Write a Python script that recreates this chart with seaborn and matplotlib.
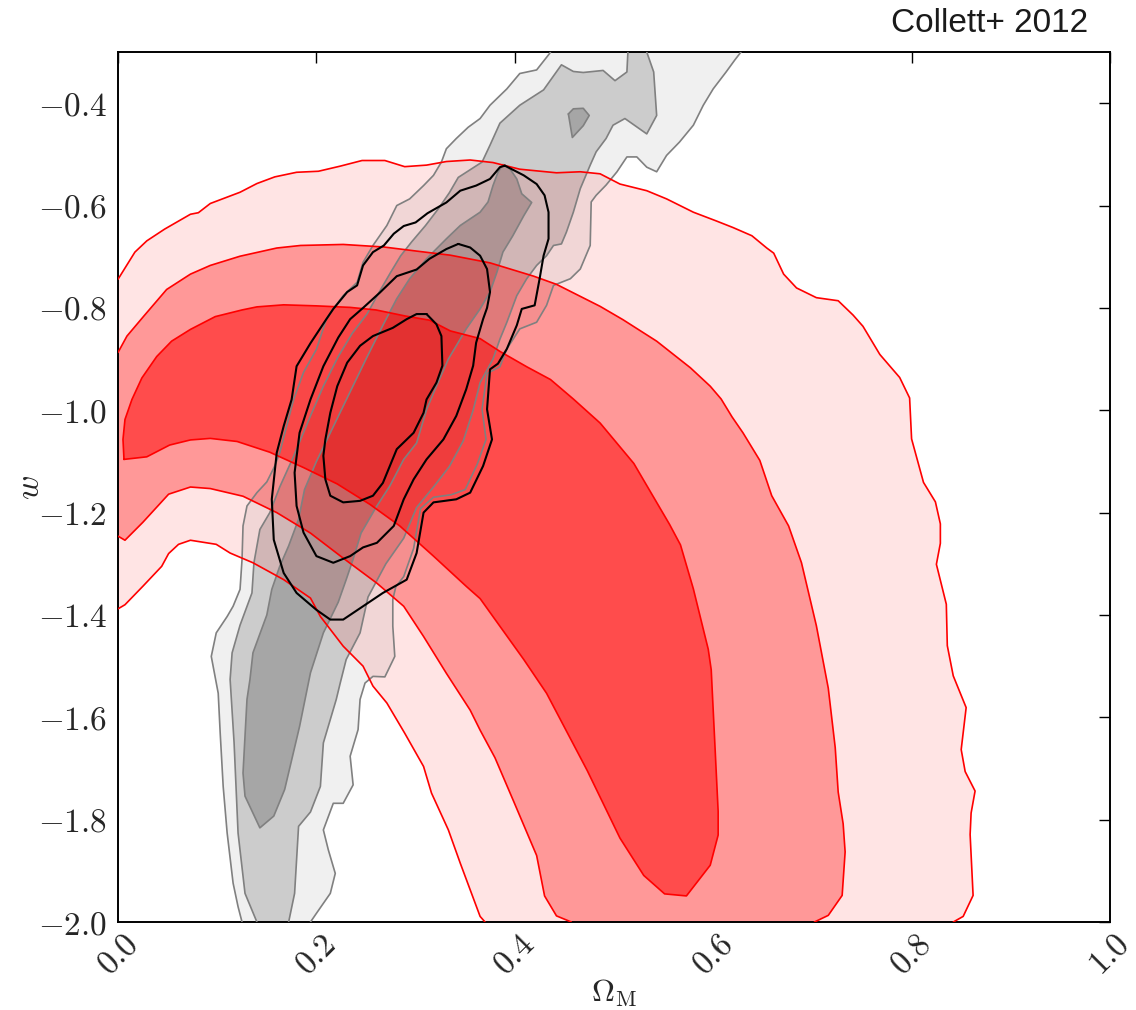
import matplotlib
matplotlib.use("Agg")
import matplotlib.pyplot as plt
import seaborn as sns
import numpy as np

# ---------------------------------------------------------------
# Confidence contours in the (Omega_M, w) plane, as (Omega_M, w) vertices.
# Open arcs end on the plot boundary; loops are closed curves.
# ---------------------------------------------------------------

# SN-like constraint (red): 3 nested levels
red_outer_top = [
    (0.0, -0.744), (0.017, -0.691), (0.029, -0.669), (0.047, -0.646), (0.073, -0.617),
    (0.081, -0.614), (0.093, -0.596), (0.123, -0.574), (0.140, -0.557), (0.158, -0.544),
    (0.180, -0.535), (0.202, -0.533), (0.224, -0.523), (0.246, -0.512), (0.269, -0.512),
    (0.289, -0.524), (0.311, -0.521), (0.331, -0.514), (0.355, -0.511), (0.378, -0.516),
    (0.405, -0.529), (0.442, -0.536), (0.466, -0.534), (0.486, -0.538), (0.506, -0.558),
    (0.533, -0.571), (0.553, -0.587), (0.580, -0.613), (0.603, -0.630), (0.620, -0.643),
    (0.639, -0.659), (0.654, -0.683), (0.661, -0.693), (0.671, -0.734), (0.684, -0.761),
    (0.704, -0.780), (0.726, -0.786), (0.741, -0.814), (0.751, -0.836), (0.768, -0.891),
    (0.788, -0.936), (0.798, -0.976), (0.800, -1.056), (0.812, -1.141), (0.824, -1.179),
    (0.829, -1.222), (0.829, -1.260), (0.825, -1.301), (0.835, -1.379), (0.836, -1.460),
    (0.842, -1.519), (0.855, -1.581), (0.850, -1.663), (0.854, -1.706), (0.864, -1.744),
    (0.860, -1.787), (0.859, -1.829), (0.862, -1.948), (0.852, -1.989), (0.842, -2.0),
]
red_outer_bottom = [
    (0.370, -2.0), (0.365, -1.989), (0.355, -1.937), (0.345, -1.885), (0.333, -1.820),
    (0.316, -1.748), (0.308, -1.696), (0.289, -1.631), (0.271, -1.572), (0.257, -1.539),
    (0.247, -1.500), (0.227, -1.461), (0.204, -1.403), (0.194, -1.367), (0.167, -1.331),
    (0.136, -1.298), (0.113, -1.279), (0.099, -1.262), (0.073, -1.254), (0.061, -1.262),
    (0.051, -1.280), (0.044, -1.305), (0.025, -1.344), (0.007, -1.380), (0.0, -1.388),
]
red_mid_top = [
    (0.0, -0.887), (0.009, -0.855), (0.026, -0.816), (0.049, -0.764), (0.073, -0.734),
    (0.093, -0.717), (0.123, -0.699), (0.160, -0.683), (0.184, -0.678), (0.227, -0.676),
    (0.268, -0.681), (0.301, -0.689), (0.335, -0.697), (0.375, -0.712), (0.419, -0.738),
    (0.442, -0.754), (0.486, -0.797), (0.509, -0.823), (0.543, -0.865), (0.577, -0.917),
    (0.597, -0.953), (0.608, -0.978), (0.619, -1.013), (0.630, -1.044), (0.647, -1.098),
    (0.659, -1.167), (0.676, -1.226), (0.689, -1.298), (0.699, -1.380), (0.704, -1.421),
    (0.716, -1.543), (0.723, -1.659), (0.726, -1.746), (0.731, -1.808), (0.733, -1.863),
    (0.730, -1.948), (0.716, -1.987), (0.702, -2.0),
]
red_mid_bottom = [
    (0.457, -2.0), (0.442, -1.988), (0.430, -1.949), (0.422, -1.870), (0.399, -1.765),
    (0.380, -1.679), (0.365, -1.625), (0.355, -1.586), (0.331, -1.514), (0.308, -1.442),
    (0.288, -1.383), (0.261, -1.338), (0.227, -1.289), (0.194, -1.240), (0.160, -1.200),
    (0.126, -1.168), (0.093, -1.153), (0.073, -1.150), (0.051, -1.164), (0.025, -1.219),
    (0.007, -1.254), (0.0, -1.246),
]
red_inner_loop = [
    (0.006, -1.096), (0.005, -1.057), (0.007, -1.018), (0.014, -0.979), (0.024, -0.937),
    (0.039, -0.895), (0.054, -0.865), (0.073, -0.842), (0.098, -0.817), (0.125, -0.804),
    (0.140, -0.798), (0.167, -0.794), (0.200, -0.796), (0.234, -0.799), (0.260, -0.804),
    (0.290, -0.816), (0.314, -0.824), (0.335, -0.845), (0.365, -0.860), (0.385, -0.885),
    (0.412, -0.915), (0.436, -0.940), (0.459, -0.978), (0.486, -1.025), (0.520, -1.104),
    (0.556, -1.223), (0.567, -1.263), (0.580, -1.349), (0.595, -1.467), (0.598, -1.507),
    (0.602, -1.665), (0.605, -1.784), (0.605, -1.830), (0.597, -1.889), (0.573, -1.949),
    (0.551, -1.945), (0.530, -1.909), (0.506, -1.836), (0.473, -1.704), (0.432, -1.553),
    (0.409, -1.487), (0.382, -1.414), (0.365, -1.368), (0.351, -1.344), (0.318, -1.285),
    (0.284, -1.226), (0.254, -1.184), (0.221, -1.144), (0.187, -1.112), (0.153, -1.082),
    (0.120, -1.061), (0.093, -1.055), (0.073, -1.058), (0.052, -1.068), (0.029, -1.091),
]

# Lensing-like constraint (grey): 3 nested levels
grey_outer_left = [
    (0.125, -2.0), (0.121, -1.970), (0.116, -1.924), (0.110, -1.826), (0.106, -1.735),
    (0.103, -1.631), (0.101, -1.553), (0.094, -1.481), (0.099, -1.435), (0.110, -1.403),
    (0.116, -1.383), (0.123, -1.350), (0.125, -1.292), (0.126, -1.226), (0.130, -1.187),
    (0.140, -1.161), (0.150, -1.140), (0.158, -1.109), (0.163, -1.083), (0.170, -1.031),
    (0.177, -0.979), (0.187, -0.926), (0.200, -0.881), (0.210, -0.822), (0.217, -0.802),
    (0.227, -0.776), (0.241, -0.750), (0.247, -0.711), (0.257, -0.678), (0.271, -0.639),
    (0.281, -0.600), (0.294, -0.587), (0.308, -0.561), (0.318, -0.541), (0.326, -0.515),
    (0.331, -0.489), (0.341, -0.469), (0.353, -0.447), (0.365, -0.430), (0.375, -0.404),
    (0.392, -0.372), (0.405, -0.342), (0.422, -0.335), (0.435, -0.303), (0.436, -0.3),
]
grey_outer_right = [
    (0.628, -0.3), (0.622, -0.315), (0.613, -0.339), (0.600, -0.372), (0.590, -0.404),
    (0.580, -0.443), (0.566, -0.476), (0.553, -0.502), (0.543, -0.534), (0.533, -0.525),
    (0.523, -0.505), (0.513, -0.505), (0.503, -0.534), (0.492, -0.560), (0.482, -0.580),
    (0.477, -0.593), (0.476, -0.678), (0.466, -0.724), (0.456, -0.743), (0.439, -0.756),
    (0.432, -0.795), (0.422, -0.828), (0.405, -0.841), (0.392, -0.880), (0.385, -0.915),
    (0.372, -0.928), (0.367, -0.998), (0.371, -1.057), (0.362, -1.106), (0.350, -1.155),
    (0.336, -1.165), (0.318, -1.170), (0.305, -1.192), (0.298, -1.270), (0.288, -1.325),
    (0.280, -1.345), (0.277, -1.370), (0.277, -1.422), (0.279, -1.481), (0.269, -1.521),
    (0.257, -1.520), (0.249, -1.533), (0.244, -1.565), (0.242, -1.624), (0.234, -1.676),
    (0.237, -1.732), (0.227, -1.768), (0.217, -1.768), (0.207, -1.820), (0.212, -1.859),
    (0.219, -1.905), (0.214, -1.944), (0.200, -1.983), (0.194, -2.0),
]
grey_mid_left = [
    (0.140, -2.0), (0.128, -1.944), (0.121, -1.826), (0.117, -1.650), (0.113, -1.526),
    (0.115, -1.474), (0.123, -1.420), (0.135, -1.357), (0.137, -1.298), (0.143, -1.233),
    (0.153, -1.200), (0.163, -1.150), (0.177, -1.090), (0.194, -1.011), (0.207, -0.953),
    (0.222, -0.895), (0.236, -0.850), (0.251, -0.812), (0.263, -0.770), (0.275, -0.730),
    (0.285, -0.698), (0.296, -0.671), (0.310, -0.639), (0.323, -0.606), (0.334, -0.575),
    (0.343, -0.545), (0.367, -0.515), (0.375, -0.482), (0.385, -0.439), (0.405, -0.404),
    (0.429, -0.374), (0.447, -0.325), (0.459, -0.338), (0.469, -0.340), (0.489, -0.336),
    (0.501, -0.356), (0.513, -0.339), (0.514, -0.3),
]
grey_mid_right = [
    (0.533, -0.3), (0.540, -0.339), (0.543, -0.424), (0.533, -0.460), (0.511, -0.430),
    (0.499, -0.443), (0.492, -0.469), (0.482, -0.495), (0.476, -0.521), (0.466, -0.567),
    (0.459, -0.613), (0.452, -0.652), (0.447, -0.675), (0.439, -0.678), (0.432, -0.698),
    (0.422, -0.717), (0.412, -0.743), (0.402, -0.776), (0.392, -0.828), (0.385, -0.861),
    (0.378, -0.900), (0.365, -0.946), (0.358, -1.000), (0.348, -1.060), (0.334, -1.110),
    (0.318, -1.150), (0.301, -1.190), (0.288, -1.250), (0.270, -1.300), (0.252, -1.365),
    (0.244, -1.435), (0.230, -1.487), (0.224, -1.533), (0.220, -1.565), (0.207, -1.650),
    (0.204, -1.735), (0.194, -1.785), (0.182, -1.813), (0.178, -1.944), (0.172, -2.0),
]
grey_inner_loop = [
    (0.388, -0.520), (0.395, -0.528), (0.402, -0.548), (0.407, -0.577), (0.417, -0.594),
    (0.409, -0.620), (0.398, -0.659), (0.388, -0.691), (0.382, -0.730), (0.375, -0.769),
    (0.365, -0.802), (0.351, -0.841), (0.341, -0.874), (0.333, -0.900), (0.321, -0.953),
    (0.311, -0.999), (0.301, -1.064), (0.288, -1.096), (0.274, -1.148), (0.260, -1.190),
    (0.245, -1.240), (0.237, -1.291), (0.230, -1.331), (0.222, -1.375), (0.207, -1.435),
    (0.194, -1.513), (0.183, -1.618), (0.168, -1.741), (0.157, -1.793), (0.143, -1.816),
    (0.128, -1.754), (0.126, -1.709), (0.130, -1.565), (0.133, -1.526), (0.136, -1.474),
    (0.150, -1.400), (0.155, -1.350), (0.163, -1.305), (0.172, -1.265), (0.182, -1.213),
    (0.188, -1.155), (0.200, -1.100), (0.225, -1.000), (0.250, -0.900), (0.267, -0.834),
    (0.281, -0.782), (0.294, -0.743), (0.311, -0.704), (0.331, -0.665), (0.345, -0.639),
    (0.365, -0.613), (0.373, -0.593), (0.378, -0.561), (0.383, -0.535),
]
grey_inner_island = [
    (0.454, -0.421), (0.459, -0.411), (0.469, -0.410), (0.475, -0.424), (0.469, -0.444),
    (0.458, -0.467),
]

# Combined constraint (black outlines only)
black_outer_loop = [
    (0.390, -0.522), (0.409, -0.541), (0.422, -0.558), (0.430, -0.580), (0.434, -0.613),
    (0.434, -0.665), (0.429, -0.698), (0.425, -0.743), (0.420, -0.795), (0.407, -0.802),
    (0.402, -0.834), (0.392, -0.880), (0.383, -0.909), (0.375, -0.920), (0.372, -0.998),
    (0.377, -1.057), (0.368, -1.109), (0.355, -1.161), (0.341, -1.174), (0.318, -1.180),
    (0.308, -1.200), (0.301, -1.279), (0.291, -1.331), (0.267, -1.357), (0.227, -1.409),
    (0.214, -1.409), (0.200, -1.390), (0.180, -1.357), (0.167, -1.318), (0.157, -1.253),
    (0.155, -1.174), (0.160, -1.083), (0.167, -1.031), (0.175, -0.979), (0.180, -0.914),
    (0.194, -0.869), (0.210, -0.822), (0.217, -0.802), (0.231, -0.769), (0.241, -0.756),
    (0.247, -0.717), (0.257, -0.691), (0.268, -0.678), (0.278, -0.655), (0.288, -0.640),
    (0.300, -0.633), (0.312, -0.615), (0.331, -0.594), (0.345, -0.571), (0.361, -0.561),
    (0.375, -0.548), (0.385, -0.525),
]
black_mid_loop = [
    (0.343, -0.675), (0.355, -0.682), (0.365, -0.698), (0.372, -0.724), (0.375, -0.769),
    (0.372, -0.800), (0.368, -0.822), (0.361, -0.868), (0.358, -0.913), (0.351, -0.959),
    (0.341, -1.011), (0.328, -1.057), (0.311, -1.096), (0.298, -1.135), (0.288, -1.174),
    (0.278, -1.226), (0.261, -1.259), (0.247, -1.268), (0.234, -1.285), (0.217, -1.298),
    (0.200, -1.285), (0.187, -1.239), (0.180, -1.187), (0.178, -1.122), (0.183, -1.044),
    (0.194, -0.979), (0.207, -0.914), (0.222, -0.858), (0.234, -0.822), (0.247, -0.800),
    (0.264, -0.770), (0.281, -0.738), (0.301, -0.725), (0.314, -0.704), (0.331, -0.685),
]
black_inner_loop = [
    (0.311, -0.812), (0.321, -0.832), (0.326, -0.855), (0.327, -0.913), (0.321, -0.946),
    (0.311, -0.979), (0.308, -1.005), (0.298, -1.044), (0.281, -1.076), (0.274, -1.109),
    (0.267, -1.142), (0.257, -1.167), (0.244, -1.177), (0.227, -1.180), (0.214, -1.167),
    (0.209, -1.135), (0.207, -1.089), (0.209, -1.057), (0.214, -1.005), (0.221, -0.953),
    (0.231, -0.907), (0.244, -0.874), (0.257, -0.855), (0.277, -0.839), (0.291, -0.822),
    (0.301, -0.812),
]

x_ticks = [0.0, 0.2, 0.4, 0.6, 0.8, 1.0]
y_ticks = [-2.0, -1.8, -1.6, -1.4, -1.2, -1.0, -0.8, -0.6, -0.4]
x_range = (0.0, 1.0)
y_range = (-2.0, -0.3)
title_text = "Collett+ 2012"

# ---------------------------------------------------------------
sns.set_style("white")
plt.rcParams["mathtext.fontset"] = "cm"
plt.rcParams["font.family"] = ["Liberation Sans", "DejaVu Sans"]

fig = plt.figure(figsize=(11.36, 10.10), dpi=100)
ax = fig.add_axes([0.1039, 0.0871, 0.8732, 0.8614])


def xy(points, close=False):
    pts = list(points)
    if close:
        pts = pts + [pts[0]]
    arr = np.array(pts)
    return arr[:, 0], arr[:, 1]


def fill(points, **kw):
    x, y = xy(points)
    ax.fill(x, y, lw=0, **kw)


def outline(points, color, lw, close=False, z=5):
    x, y = xy(points, close)
    sns.lineplot(x=x, y=y, sort=False, estimator=None, color=color,
                 linewidth=lw, ax=ax, zorder=z)


# grey filled levels (opaque)
fill(grey_outer_left + grey_outer_right, color="#f0f0f0", zorder=1)
fill(grey_mid_left + grey_mid_right, color="#cccccc", zorder=1.1)
fill(grey_inner_loop, color="#a6a6a6", zorder=1.2)
fill(grey_inner_island, color="#a6a6a6", zorder=1.2)

# red filled levels, stacked translucent layers
fill(red_outer_top + red_outer_bottom, color="red", alpha=0.106, zorder=2)
fill(red_mid_top + red_mid_bottom, color="red", alpha=0.329, zorder=2.1)
fill(red_inner_loop, color="red", alpha=0.497, zorder=2.2)

# contour outlines
grey_line = "#808080"
for arc in (grey_outer_left, grey_outer_right, grey_mid_left, grey_mid_right):
    outline(arc, grey_line, 1.2, z=3)
outline(grey_inner_loop, grey_line, 1.2, close=True, z=3)
outline(grey_inner_island, grey_line, 1.2, close=True, z=3)

for arc in (red_outer_top, red_outer_bottom, red_mid_top, red_mid_bottom):
    outline(arc, "red", 1.2, z=4)
outline(red_inner_loop, "red", 1.2, close=True, z=4)

for loop in (black_outer_loop, black_mid_loop, black_inner_loop):
    outline(loop, "black", 1.5, close=True, z=5)

ax.set_xlim(*x_range)
ax.set_ylim(*y_range)

ax.set_xticks(x_ticks)
ax.set_xticklabels([f"${v:.1f}$" for v in x_ticks], rotation=45,
                   ha="center", va="top", fontsize=24)
ax.set_yticks(y_ticks)
ax.set_yticklabels([f"${v:.1f}$" for v in y_ticks], fontsize=24)
ax.tick_params(direction="in", length=8, width=1, top=True, right=True,
               color="black", pad=8)
ax.tick_params(axis="x", pad=5)

for sp in ax.spines.values():
    sp.set_linewidth(1.4)
    sp.set_color("black")

ax.set_xlabel(r"$\Omega_{\rm M}$", fontsize=23, va="center")
ax.xaxis.set_label_coords(0.5, (922 - 993) / 870)
ax.set_ylabel(r"$w$", fontsize=24, va="center")
ax.yaxis.set_label_coords((30 - 118) / 992, 0.5)

fig.text(1088 / 1136, 1 - 24 / 1010, title_text, ha="right", va="center",
         fontsize=24, color="#1a1a1a")

fig.savefig("out.png", dpi=100)
